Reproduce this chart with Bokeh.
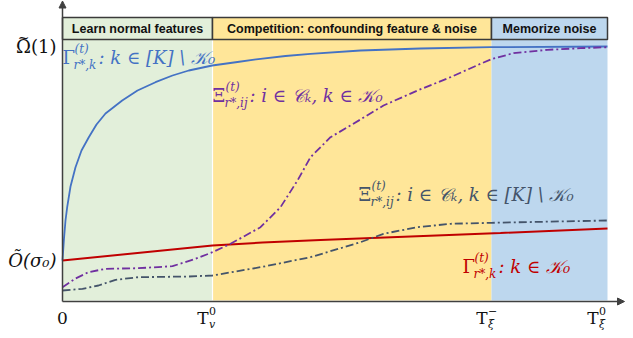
from bokeh.plotting import figure
from bokeh.models import Range1d, Arrow, NormalHead
from bokeh.core.properties import value
from bokeh.embed import file_html
from bokeh.resources import INLINE

# ---------------- data ----------------
x_ticks = [0, 150, 429, 545]
tick_main = ["0", "T", "T", "T"]
tick_sup = ["", "0", "\u2212", "0"]
tick_sub = ["", "v", "\u03be", "\u03be"]

y_ticks = [254, 40]
y_labels = ["\u03a9(1)", "O\u0303(\u03c3\u2080)"]

phase_names = ["Learn normal features",
               "Competition: confounding feature & noise",
               "Memorize noise"]
phase_colors = ["#E2EFDA", "#FFE699", "#BDD7EE"]

# Gamma, k in [K] \ K0  (normal features)
gn_t = [0, 1.5, 3, 4.7, 8, 13, 19, 26.3, 34, 43, 59.7, 75, 93, 110, 126.3, 149.7, 175, 198, 223, 248, 298, 358, 428, 545]
gn_v = [40, 62, 80, 93.3, 114, 133.3, 150, 163.3, 176, 187, 200, 210, 218.3, 225, 230, 235, 238.5, 241.7, 244.5, 246.7, 250, 252, 253.3, 254]

# Gamma, k in K0
gk_t = [0, 75, 150, 200, 258, 348, 438, 545]
gk_v = [40, 47.5, 55, 58, 60.5, 64, 67.5, 72]

# Xi, i in C_k, k in K0
xk_t = [0, 13, 26, 43, 76, 110, 133, 150, 168, 198, 218, 235, 248, 268, 288, 321, 355, 388, 418, 430, 451, 485, 518, 545]
xk_v = [13.3, 22, 28.3, 31.7, 32.3, 34.3, 41.7, 48.3, 56.7, 73.3, 93.3, 120, 143.3, 163.3, 175, 195, 210, 223.3, 236.7, 241.7, 247.3, 250.7, 252.3, 253.3]

# Xi, i in C_k, k in [K] \ K0
xn_t = [0, 20, 36, 53, 76, 126, 150, 198, 248, 298, 321, 355, 388, 429, 545]
xn_v = [10, 11.7, 15, 20.7, 23.3, 24, 25, 33.3, 43.3, 58.3, 66.7, 73.3, 76.7, 77.7, 80]

BLUE, RED, PURPLE, GRAY = "#4472C4", "#C00000", "#7030A0", "#44546A"

# ---------------- figure ----------------
W, H = 633, 338
X0, Y0 = 62, 300          # pixel position of data origin
p = figure(width=W, height=H, x_range=Range1d(-X0, W - X0), y_range=Range1d(Y0 - H, Y0),
           x_axis_type=None, y_axis_type=None, min_border=0,
           toolbar_location=None, output_backend="svg")
p.grid.visible = False
p.outline_line_color = None
p.background_fill_color = "white"


def tx(px):
    return px - X0


def vy(py):
    return Y0 - py


SERIF = value("DejaVu Serif")


def put(px, py, txt, size, color, style="normal", align="left", font=SERIF):
    p.text(x=[tx(px)], y=[vy(py)], text=[txt], text_font=font,
           text_font_size=f"{size}px", text_font_style=style, text_color=color,
           text_align=align, text_baseline="middle")


# phase backgrounds
shade_top = vy(39)
p.quad(left=x_ticks[:3], right=x_ticks[1:], bottom=[0] * 3, top=[shade_top] * 3,
       fill_color=phase_colors, line_color=None)
p.segment(x0=[x_ticks[1]], y0=[0], x1=[x_ticks[1]], y1=[shade_top], line_color="white", line_width=1.2)

# header boxes
p.quad(left=x_ticks[:3], right=x_ticks[1:], bottom=[shade_top] * 3, top=[vy(17)] * 3,
       fill_color=phase_colors, line_color="#3A3A3A", line_width=1.5)
for i, name in enumerate(phase_names):
    cx = (x_ticks[i] + x_ticks[i + 1]) / 2
    p.text(x=[cx], y=[vy(28.5)], text=[name], text_font=value("Liberation Sans"),
           text_font_size="12.5px", text_font_style="bold", text_color="#111111",
           text_align="center", text_baseline="middle")

# curves
dash = "8 3 2 3"
p.line(gn_t, gn_v, line_color=BLUE, line_width=1.8)
p.line(gk_t, gk_v, line_color=RED, line_width=2)
p.line(xn_t, xn_v, line_color=GRAY, line_width=1.8, line_dash=dash)
p.line(xk_t, xk_v, line_color=PURPLE, line_width=1.8, line_dash=dash)

# axes with arrows
p.add_layout(Arrow(end=NormalHead(size=7, fill_color="#404040", line_color="#404040"),
                   x_start=0, y_start=-1, x_end=tx(624), y_end=-1,
                   line_color="#404040", line_width=1.5))
p.add_layout(Arrow(end=NormalHead(size=7, fill_color="#404040", line_color="#404040"),
                   x_start=0, y_start=-1, x_end=0, y_end=vy(0.5),
                   line_color="#404040", line_width=1.5))

# x tick labels
tick_shift = [0, -4, -4, -9]
for i, t in enumerate(x_ticks):
    if tick_sup[i] == "":
        put(X0 + t, 317, tick_main[i], 17, "#111111", align="center")
    else:
        xr = X0 + t + tick_shift[i]
        put(xr, 317.5, tick_main[i], 17, "#111111", align="right")
        put(xr + 0.5, 310.5, tick_sup[i], 11, "#111111")
        put(xr + 0.5, 324, tick_sub[i], 11, "#111111", style="italic")

# y tick labels
for v, lab in zip(y_ticks, y_labels):
    put(56, Y0 - v, lab, 18, "#111111", style="normal" if v > 100 else "italic", align="right")
# wide tilde over Omega
put(23, 37.5, "~", 14, "#111111", align="center")


# series labels: symbol, stacked super/subscript, then the rest
def series_label(px, py, sym, sub, rest, color, sym_w):
    put(px, py, sym, 18, color)
    put(px + sym_w + 1, py - 9, "(t)", 12, color, style="italic")
    put(px + sym_w, py + 7, sub, 12, color, style="italic")
    put(px + sym_w + 25, py, rest, 18, color, style="italic")


series_label(62, 57, "\u0393", "r*,k", ": k \u2208 [K] \\ \U0001D4A6\u2080", BLUE, 11)
series_label(212, 95, "\u039e", "r*,ij", ": i \u2208 \U0001D49E\u2096, k \u2208 \U0001D4A6\u2080", PURPLE, 12)
series_label(358, 194, "\u039e", "r*,ij", ": i \u2208 \U0001D49E\u2096, k \u2208 [K] \\ \U0001D4A6\u2080", GRAY, 12)
series_label(462, 266, "\u0393", "r*,k", ": k \u2208 \U0001D4A6\u2080", RED, 11)

open("out.html", "w").write(file_html(p, INLINE))
